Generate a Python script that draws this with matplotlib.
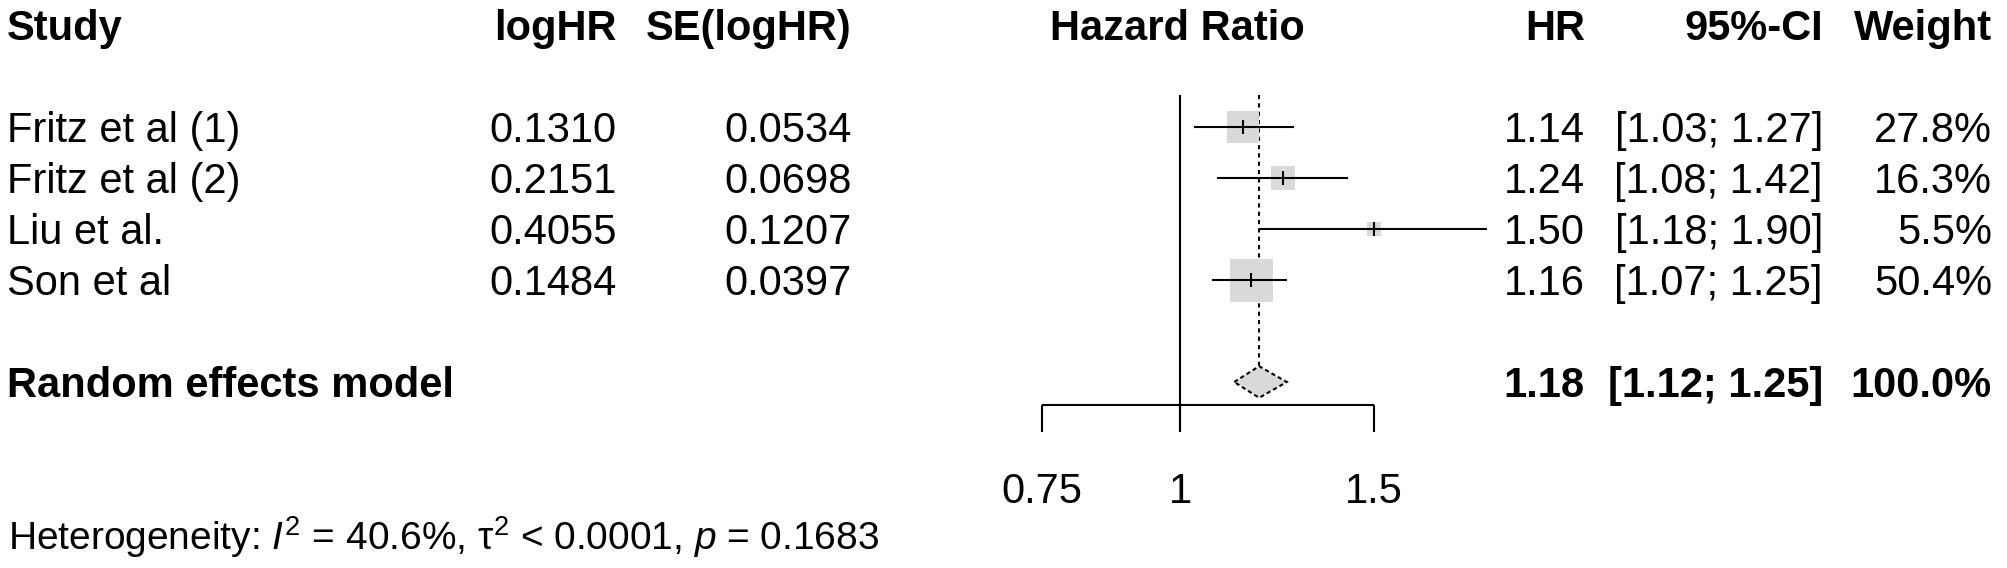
import matplotlib
matplotlib.use("Agg")
import matplotlib.pyplot as plt
import numpy as np
from matplotlib.patches import Polygon
from matplotlib.transforms import blended_transform_factory

# ---------------- data ----------------
studies = ["Fritz et al (1)", "Fritz et al (2)", "Liu et al.", "Son et al"]
loghr = ["0.1310", "0.2151", "0.4055", "0.1484"]
se_loghr = ["0.0534", "0.0698", "0.1207", "0.0397"]
hr = [1.14, 1.24, 1.50, 1.16]
ci_lo = [1.03, 1.08, 1.18, 1.07]
ci_hi = [1.27, 1.42, 1.90, 1.25]
weight = [27.8, 16.3, 5.5, 50.4]

pooled_label = "Random effects model"
pooled_hr = 1.18
pooled_lo = 1.12
pooled_hi = 1.25
pooled_weight = 100.0

axis_ticks = [0.75, 1, 1.5]
axis_tick_labels = ["0.75", "1", "1.5"]
headers = ["Study", "logHR", "SE(logHR)", "Hazard Ratio", "HR", "95%-CI", "Weight"]
heterogeneity = (r"Heterogeneity: $\mathit{I}^{2}$ = 40.6%, $\mathrm{\tau}^{2}$ < 0.0001, "
                 r"$\mathit{p}$ = 0.1683")

# ---------------- style ----------------
plt.rcParams['font.family'] = ['Liberation Sans', 'DejaVu Sans']
plt.rcParams['mathtext.fontset'] = 'custom'
plt.rcParams['mathtext.rm'] = 'Liberation Sans'
plt.rcParams['mathtext.it'] = 'Liberation Sans:italic'
plt.rcParams['mathtext.bf'] = 'Liberation Sans:bold'

W, H = 2008, 568
FS = 30
FS_HET = 28
GREY = "#D9D9D9"
LW = 1.5

fig = plt.figure(figsize=(W / 100, H / 100), dpi=100)
ax = fig.add_axes([0, 0, 1, 1])
ax.set_xscale('log')
PX_PER_LOG = 478.4
X1_PX = 1180
ax.set_xlim(np.exp(-X1_PX / PX_PER_LOG), np.exp((W - X1_PX) / PX_PER_LOG))
ROW0, ROWH = 127, 51
ax.set_ylim((H - ROW0) / ROWH, -ROW0 / ROWH)
ax.axis('off')

rows = np.arange(len(studies))
pooled_row = 5
top_row = (95 - ROW0) / ROWH
axis_row = (405 - ROW0) / ROWH
tick_end_row = (432 - ROW0) / ROWH
diam_half = 0.31

# reference line at 1
ax.vlines(1, top_row, tick_end_row, color='black', lw=LW, zorder=2)
# pooled dotted line
ax.vlines(pooled_hr, top_row, pooled_row - diam_half, color='black', lw=LW,
          linestyles=[(0, (2, 2))], zorder=2)
# x axis
ax.hlines(axis_row, axis_ticks[0], axis_ticks[-1], color='black', lw=LW)
ax.vlines(axis_ticks, axis_row, tick_end_row, color='black', lw=LW)

# squares
side_max_pt = 43 * 0.72
sizes = [(side_max_pt ** 2) * w / max(weight) for w in weight]
ax.scatter(hr, rows, s=sizes, marker='s', color=GREY, linewidths=0, zorder=3)
# CI lines
ax.hlines(rows, ci_lo, ci_hi, color='black', lw=LW, zorder=4)
ax.plot(hr, rows, linestyle='none', marker='|', markersize=9.5, mew=LW,
        color='black', zorder=5)

# diamond
diamond = Polygon([(pooled_lo, pooled_row), (pooled_hr, pooled_row - diam_half),
                   (pooled_hi, pooled_row), (pooled_hr, pooled_row + diam_half)],
                  closed=True, facecolor=GREY, edgecolor='black', lw=LW,
                  linestyle=(0, (2, 1.5)), zorder=4)
ax.add_patch(diamond)

# ---------------- text ----------------
tr = blended_transform_factory(fig.transFigure, ax.transData)
BO = 0.30  # baseline offset in rows


def put(xpx, row, s, ha='left', bold=False, **kw):
    ax.text(xpx / W, row + BO, s, transform=tr, ha=ha, va='baseline',
            fontsize=FS, fontweight='bold' if bold else 'normal', **kw)


col_x = {"Study": (7, 'left'), "logHR": (617, 'right'), "SE(logHR)": (852, 'right'),
         "Hazard Ratio": (1177, 'center'), "HR": (1585, 'right'),
         "95%-CI": (1823, 'right'), "Weight": (1992, 'right')}
for h in headers:
    x, ha = col_x[h]
    put(x, -2, h, ha=ha, bold=True)

for i, name in enumerate(studies):
    put(col_x["Study"][0], rows[i], name)
    put(col_x["logHR"][0], rows[i], loghr[i], ha='right')
    put(col_x["SE(logHR)"][0], rows[i], se_loghr[i], ha='right')
    put(col_x["HR"][0], rows[i], f"{hr[i]:.2f}", ha='right')
    put(col_x["95%-CI"][0], rows[i], f"[{ci_lo[i]:.2f}; {ci_hi[i]:.2f}]", ha='right')
    put(col_x["Weight"][0], rows[i], f"{weight[i]:.1f}%", ha='right')

put(col_x["Study"][0], pooled_row, pooled_label, bold=True)
put(col_x["HR"][0], pooled_row, f"{pooled_hr:.2f}", ha='right', bold=True)
put(col_x["95%-CI"][0], pooled_row, f"[{pooled_lo:.2f}; {pooled_hi:.2f}]", ha='right', bold=True)
put(col_x["Weight"][0], pooled_row, f"{pooled_weight:.1f}%", ha='right', bold=True)

# tick labels
label_row = (503 - ROW0) / ROWH
for t, lab in zip(axis_ticks, axis_tick_labels):
    ax.text(t, label_row, lab, ha='center', va='baseline', fontsize=FS)

# heterogeneity
het_row = (550 - ROW0) / ROWH
ax.text(8 / W, het_row, heterogeneity, transform=tr, ha='left', va='baseline', fontsize=FS_HET)

fig.savefig("out.png", dpi=100)
